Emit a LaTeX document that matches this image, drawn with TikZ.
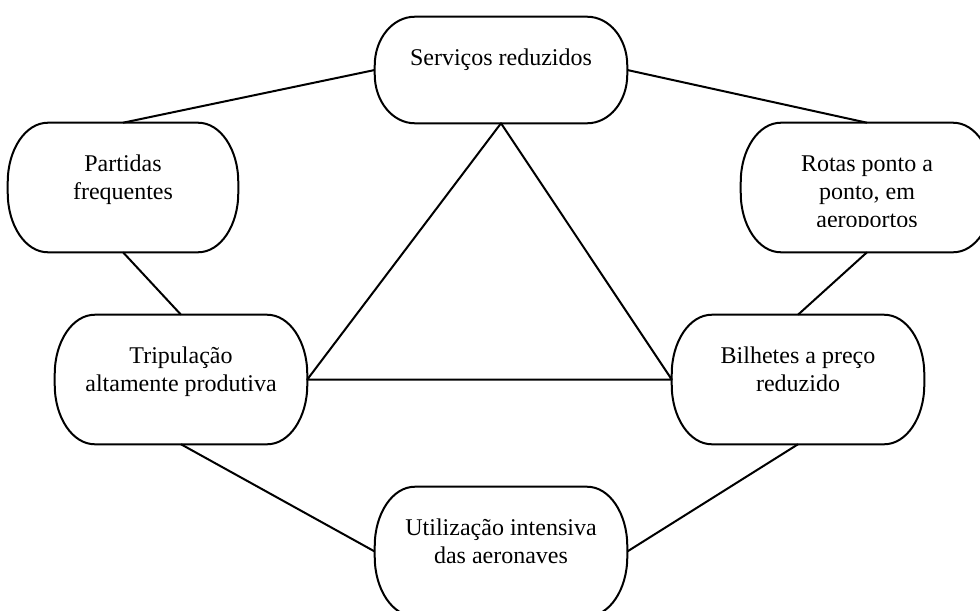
\documentclass[tikz,border=0pt]{standalone}
\usepackage{fontspec}
\setmainfont{Liberation Serif}

% invisible strut that fixes the height of the first text line
\newcommand\capstrut{\rule{0pt}{15pt}}

% outline of a box with elliptical corners: #1 node, #2 x radius, #3 y radius
\newcommand\drawcapsule[3]{%
  \draw[edge] ([xshift=#2]#1.north west) -- ([xshift=-#2]#1.north east)
    arc[start angle=90,end angle=0,x radius=#2,y radius=#3]
    -- ([yshift=#3]#1.south east)
    arc[start angle=0,end angle=-90,x radius=#2,y radius=#3]
    -- ([xshift=#2]#1.south west)
    arc[start angle=270,end angle=180,x radius=#2,y radius=#3]
    -- ([yshift=-#3]#1.north west)
    arc[start angle=180,end angle=90,x radius=#2,y radius=#3] -- cycle;}

\begin{document}
\begin{tikzpicture}[x=0.75pt,y=-0.75pt,
  edge/.style={line width=1.5pt, line join=round},
  frame/.style={rectangle, inner sep=0pt, minimum width=189pt, minimum height=96.75pt},
  caption/.style={anchor=north, inner sep=0pt, align=center,
                  font=\fontsize{18}{21}\selectfont}]

\useasboundingbox (0,0) rectangle (980,610);
\fill[white] (0,0) rectangle (980,610);
\clip (0,0) rectangle (980,610);

% box frames
\node[frame, minimum height=79.5pt] (serv) at (501,70) {};
\node[frame, minimum width=172.5pt] (part) at (123,187.5) {};
\node[frame] (rotas) at (867,187.5) {};
\node[frame] (trip) at (181,379.5) {};
\node[frame] (bilh) at (798,379.5) {};
\node[frame] (util) at (501,551.5) {};

% connectors around the ring
\draw[edge] (serv.west) -- (part.north);
\draw[edge] (serv.east) -- (rotas.north);
\draw[edge] (part.south) -- (trip.north);
\draw[edge] (rotas.south) -- (bilh.north);
\draw[edge] (trip.south) -- (util.west);
\draw[edge] (bilh.south) -- (util.east);

% central triangle
\draw[edge] (serv.south) -- (trip.east) -- (bilh.west) -- cycle;

% outlines
\drawcapsule{serv}{30pt}{36.5pt}
\drawcapsule{part}{30pt}{44.5pt}
\drawcapsule{rotas}{30pt}{44.5pt}
\drawcapsule{trip}{30pt}{44.5pt}
\drawcapsule{bilh}{30pt}{44.5pt}
\drawcapsule{util}{30pt}{44.5pt}

% texts
\node[caption] (servT) at (501,45) {\capstrut Serviços reduzidos};
\node[caption] (partT) at (123,151) {\capstrut Partidas\\frequentes};
\begin{scope}
  \clip (741,123) rectangle (993,226);
  \node[caption] (rotasT) at (867,151) {\capstrut Rotas ponto a\\ponto, em\\aeroportos};
\end{scope}
\node[caption] (tripT) at (181,343) {\capstrut Tripulação\\altamente produtiva};
\node[caption] (bilhT) at (798,343) {\capstrut Bilhetes a preço\\reduzido};
\node[caption] (utilT) at (501,515) {\capstrut Utilização intensiva\\das aeronaves};

\end{tikzpicture}
\end{document}
